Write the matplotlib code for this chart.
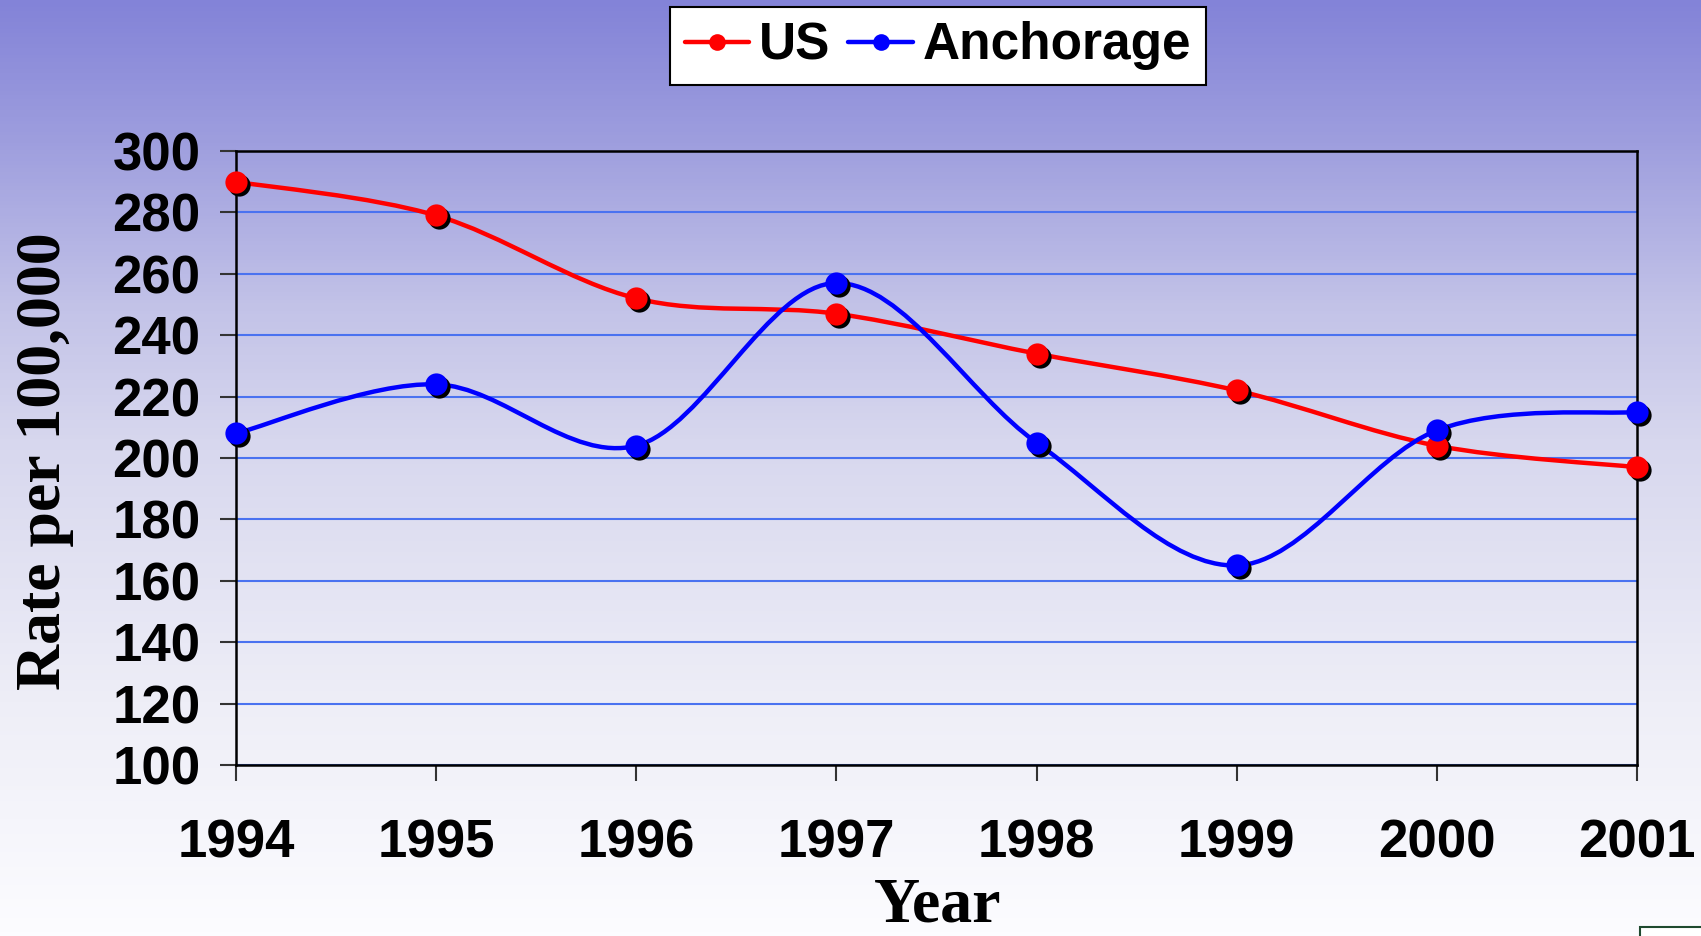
import numpy as np
import matplotlib
matplotlib.use("Agg")
import matplotlib.pyplot as plt
from matplotlib.path import Path
from matplotlib.patches import PathPatch, Rectangle
from matplotlib.lines import Line2D
from matplotlib.colors import LinearSegmentedColormap
import matplotlib.transforms as mtransforms

years = [1994, 1995, 1996, 1997, 1998, 1999, 2000, 2001]
us_rate = [290, 279, 252, 247, 234, 222, 204, 197]
anchorage_rate = [208, 224, 204, 257, 205, 165, 209, 215]
y_ticks = [100, 120, 140, 160, 180, 200, 220, 240, 260, 280, 300]

sans = ['Liberation Sans', 'DejaVu Sans']
serif = ['Liberation Serif', 'DejaVu Serif']


def smooth_path(xs, ys):
    """Excel-like smoothed line: Bezier segments through the data points."""
    pts = np.column_stack([xs, ys]).astype(float)
    ext = np.vstack([pts[0], pts, pts[-1]])
    verts = [pts[0]]
    codes = [Path.MOVETO]
    for i in range(len(pts) - 1):
        p0, p1, p2, p3 = ext[i], ext[i + 1], ext[i + 2], ext[i + 3]
        c1 = p1 + (p2 - p0) / 6.0
        c2 = p2 - (p3 - p1) / 6.0
        verts += [c1, c2, p2]
        codes += [Path.CURVE4] * 3
    return Path(verts, codes)


W, H = 1701, 936
fig = plt.figure(figsize=(W / 100, H / 100), dpi=100)

# background gradient
bg = fig.add_axes([0, 0, 1, 1], zorder=-10)
cmap = LinearSegmentedColormap.from_list('bg', [
    (0.0, (131/255, 131/255, 216/255)),
    (0.15, (158/255, 158/255, 222/255)),
    (0.33, (195/255, 195/255, 232/255)),
    (0.47, (215/255, 215/255, 238/255)),
    (0.75, (238/255, 238/255, 247/255)),
    (1.0, (252/255, 252/255, 255/255)),
])
bg.imshow(np.linspace(0, 1, 256).reshape(-1, 1), aspect='auto', cmap=cmap,
          extent=[0, 1, 1, 0])
bg.set_xlim(0, 1)
bg.set_ylim(1, 0)
bg.axis('off')

ax = fig.add_axes([236 / W, 1 - 765 / H, (1637 - 236) / W, (765 - 151) / H])
ax.patch.set_alpha(0)

ax.set_xlim(1994, 2001)
ax.set_ylim(100, 300)
ax.set_yticks(y_ticks)
ax.set_xticks(years)
ax.yaxis.grid(True, color='#4a72f0', lw=1.5)
ax.set_axisbelow(True)
for s in ax.spines.values():
    s.set_color('black')
    s.set_linewidth(1.8)
ax.tick_params(axis='both', length=11.5, width=1.5, color='#333333')
ax.tick_params(axis='y', pad=14)
ax.tick_params(axis='x', pad=27)
for lab in ax.get_xticklabels() + ax.get_yticklabels():
    lab.set_fontfamily(sans)
    lab.set_fontweight('bold')
    lab.set_fontsize(38)

shadow = mtransforms.offset_copy(ax.transData, fig=fig, x=3, y=-3, units='dots')

for vals, color in [(us_rate, '#ff0000'), (anchorage_rate, '#0000ff')]:
    ax.add_patch(PathPatch(smooth_path(years, vals), fill=False,
                           edgecolor=color, lw=3.2, zorder=3, clip_on=False))
    ax.plot(years, vals, 'o', color='black', ms=16, mew=0, transform=shadow,
            zorder=4, clip_on=False)
    ax.plot(years, vals, 'o', color=color, ms=16, mew=0, zorder=5, clip_on=False)

# legend
handles = [Line2D([], [], color='#ff0000', lw=3.2, marker='o', ms=12, mew=0,
                  solid_capstyle='round'),
           Line2D([], [], color='#0000ff', lw=3.2, marker='o', ms=12, mew=0,
                  solid_capstyle='round')]
leg = fig.legend(handles, ['US', 'Anchorage'], ncol=2, loc='center',
                 bbox_to_anchor=(938 / W, 1 - 46 / H),
                 prop={'family': sans, 'weight': 'bold', 'size': 37},
                 frameon=True, fancybox=False, edgecolor='black',
                 handlelength=1.25, handletextpad=0.2, columnspacing=0.35,
                 borderpad=0.28, borderaxespad=0)
leg.get_frame().set_linewidth(1.5)
leg.get_frame().set_facecolor('white')
leg.get_frame().set_alpha(1)

fig.text(45 / W, 1 - 461 / H, 'Rate per 100,000', rotation=90,
         ha='center', va='center', family=serif, weight='bold', fontsize=46)
fig.text(938 / W, 14 / H, 'Year', ha='center', va='baseline',
         family=serif, weight='bold', fontsize=46)

# fragment of a logo box in the bottom-right corner
fig.patches.append(Rectangle((1640 / W, -0.01), 0.1, (9 / H) + 0.01,
                             transform=fig.transFigure, facecolor='white',
                             edgecolor='#1f4a2f', lw=1.5))

fig.savefig('out.png', dpi=100)
